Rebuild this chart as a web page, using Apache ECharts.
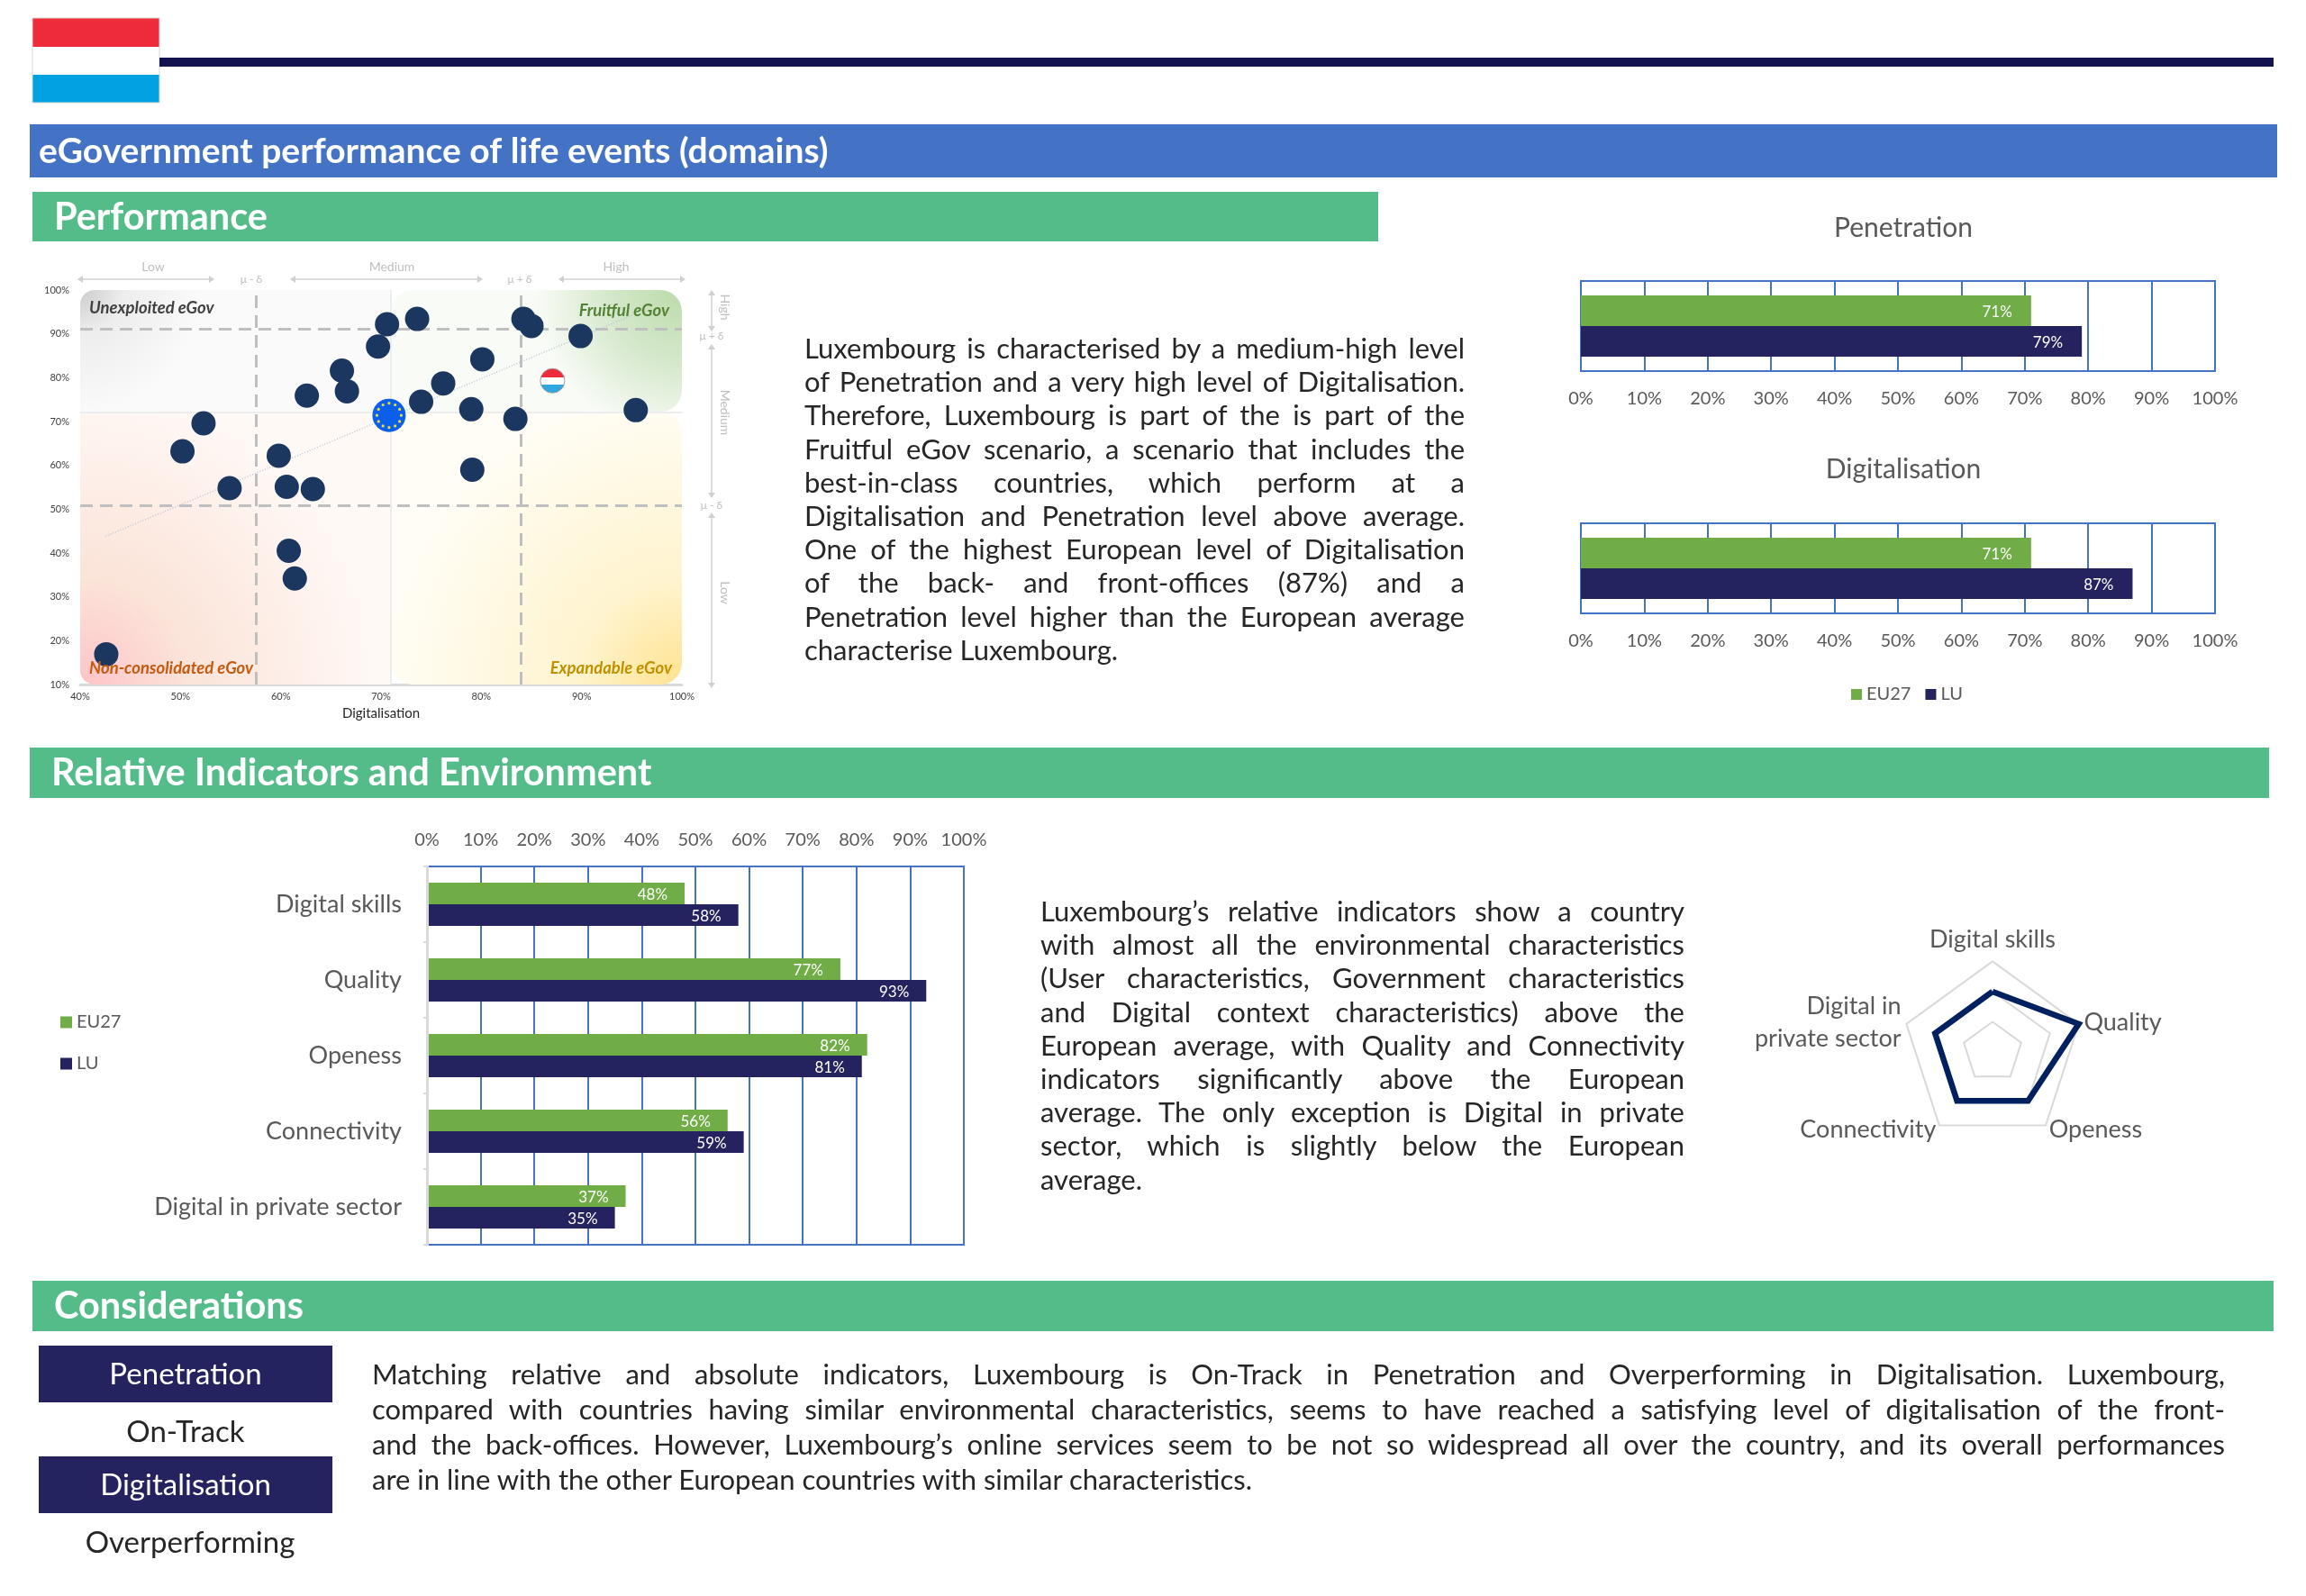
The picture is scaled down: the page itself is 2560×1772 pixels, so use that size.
<!DOCTYPE html>
<html>
<head>
<meta charset="utf-8">
<title>eGovernment performance of life events (domains)</title>
<script src="https://cdn.jsdelivr.net/npm/echarts@6/dist/echarts.min.js"></script>
<style>
	html, body { margin: 0; padding: 0; background: #fff; }
	#container { position: absolute; left: 0; top: 0; width: 2560px; height: 1772px; }
	.para { position: absolute; font-family: Lato, sans-serif; font-size: 31px; line-height: 37.2px; color: #262626; }
	.para.wide { line-height: 39px; }
	.para div { text-align: justify; text-align-last: justify; white-space: nowrap; }
	.para div.last { text-align-last: left; }
</style>
</head>
<body>
<div id="container"></div>
<div class="para" id="para1" style="left:893px;top:368px;width:733px"></div>
<div class="para" id="para2" style="left:1155px;top:993px;width:715px"></div>
<div class="para wide" id="para3" style="left:413px;top:1506px;width:2057px"></div>
<script>
// scatter, one entry per country
var countryDig = [42.6, 50.2, 52.3, 54.9, 59.8, 60.6, 63.2, 60.8, 61.4, 62.6, 66.1, 66.6, 69.7, 70.6, 73.6, 74.0, 76.2, 79.0, 79.1, 80.1, 83.4, 84.2, 85.0, 89.9, 95.4];
var countryPen = [16.9, 63.2, 69.6, 54.8, 62.2, 55.1, 54.6, 40.5, 34.2, 75.9, 81.6, 76.9, 87.1, 92.2, 93.4, 74.5, 78.7, 72.8, 59.0, 84.2, 70.6, 93.4, 91.8, 89.5, 72.6];
var euPoint = [70.8, 71.4];
var luPoint = [87.1, 79.3];
var trendDig = [42.5, 95.2];
var trendPen = [43.8, 94.4];
var avgDig = 71, avgPen = 72.2;
var dashDig = [57.5, 83.9];
var dashPen = [50.8, 91.2];

var groups = ['EU27', 'LU'];
var penetration = [71, 79];
var digitalisation = [71, 87];

var indicators = ['Digital skills', 'Quality', 'Openess', 'Connectivity', 'Digital in private sector'];
var indicatorsEU = [48, 77, 82, 56, 37];
var indicatorsLU = [58, 93, 81, 59, 35];

// radar goes counter clockwise from the top
var radarNames = ['Digital skills', 'Digital in\nprivate sector', 'Connectivity', 'Openess', 'Quality'];
var radarValues = [2, 2, 2, 2, 3];

var para1 = [
	'Luxembourg is characterised by a medium-high level',
	'of Penetration and a very high level of Digitalisation.',
	'Therefore, Luxembourg is part of the is part of the',
	'Fruitful eGov scenario, a scenario that includes the',
	'best-in-class countries, which perform at a',
	'Digitalisation and Penetration level above average.',
	'One of the highest European level of Digitalisation',
	'of the back- and front-offices (87%) and a',
	'Penetration level higher than the European average',
	'characterise Luxembourg.'
];
var para2 = [
	'Luxembourg\u2019s relative indicators show a country',
	'with almost all the environmental characteristics',
	'(User characteristics, Government characteristics',
	'and Digital context characteristics) above the',
	'European average, with Quality and Connectivity',
	'indicators significantly above the European',
	'average. The only exception is Digital in private',
	'sector, which is slightly below the European',
	'average.'
];
var para3 = [
	'Matching relative and absolute indicators, Luxembourg is On-Track in Penetration and Overperforming in Digitalisation. Luxembourg,',
	'compared with countries having similar environmental characteristics, seems to have reached a satisfying level of digitalisation of the front-',
	'and the back-offices. However, Luxembourg\u2019s online services seem to be not so widespread all over the country, and its overall performances',
	'are in line with the other European countries with similar characteristics.'
];

function fillPara(id, lines) {
	var box = document.getElementById(id);
	lines.forEach(function (line, i) {
		var d = document.createElement('div');
		d.textContent = line;
		if (i === lines.length - 1) d.className = 'last';
		box.appendChild(d);
	});
}
fillPara('para1', para1);
fillPara('para2', para2);
fillPara('para3', para3);

var GREEN = '#70AD47', NAVY = '#25235F', GRIDBLUE = '#4472C4', GREYTEXT = '#595959', NOTE = '#BFBFBF';
var R = echarts.graphic.RadialGradient;
var quadrants = [
	{ x: [40, avgDig], y: [avgPen, 100], r: [16, 0, 0, 0], fill: new R(0, 0, 1, [{ offset: 0, color: '#CCCCCC' }, { offset: 0.35, color: '#EDEDED' }, { offset: 1, color: '#FAFAFA' }]) },
	{ x: [avgDig, 100], y: [avgPen, 100], r: 24, fill: new R(1, 0, 1.2, [{ offset: 0, color: '#BBDBAB' }, { offset: 0.5, color: '#D5E8CB' }, { offset: 1, color: '#F8FBF6' }]) },
	{ x: [40, avgDig], y: [10, avgPen], r: [0, 0, 0, 16], fill: new R(0, 1, 1.1, [{ offset: 0, color: '#FFC3C8' }, { offset: 0.35, color: '#FBE3D8' }, { offset: 1, color: '#FFF9F6' }]) },
	{ x: [avgDig, 100], y: [10, avgPen], r: 24, fill: new R(1, 1, 1.1, [{ offset: 0, color: '#FFE28F' }, { offset: 0.35, color: '#FFF4CF' }, { offset: 1, color: '#FFFDF6' }]) }
];

function zipPoints(xs, ys) {
	return xs.map(function (x, i) { return [x, ys[i]]; });
}

// banner = coloured rect with a white title
function banner(x, y, w, h, color, text, tx, size, weight) {
	return [
		{ type: 'rect', shape: { x: x, y: y, width: w, height: h }, style: { fill: color } },
		{ type: 'text', x: tx, y: y + h / 2 + 1, style: { text: text, fill: '#fff', font: weight + ' ' + size + 'px Lato', textVerticalAlign: 'middle' } }
	];
}
function navyBox(y, text) {
	return [
		{ type: 'rect', shape: { x: 43, y: y, width: 326, height: 63 }, style: { fill: NAVY } },
		{ type: 'text', x: 206, y: y + 32, style: { text: text, fill: '#fff', font: '400 33px Lato', textAlign: 'center', textVerticalAlign: 'middle' } }
	];
}
function note(x, y, text, size, rot) {
	return { type: 'text', x: x, y: y, rotation: rot || 0, style: { text: text, fill: NOTE, font: size + 'px Lato', textAlign: 'center', textVerticalAlign: 'middle' } };
}
function arrow(x1, y1, x2, y2) {
	var out = [{ type: 'line', shape: { x1: x1, y1: y1, x2: x2, y2: y2 }, style: { stroke: '#D0D0D0', lineWidth: 1.5 } }];
	var horiz = y1 === y2;
	[[x1, y1, -1], [x2, y2, 1]].forEach(function (e) {
		var p = horiz ? [[e[0] + e[2] * 4, e[1]], [e[0] - e[2] * 2, e[1] - 4], [e[0] - e[2] * 2, e[1] + 4]]
			: [[e[0], e[1] + e[2] * 4], [e[0] - 4, e[1] - e[2] * 2], [e[0] + 4, e[1] - e[2] * 2]];
		out.push({ type: 'polygon', shape: { points: p }, style: { fill: '#D0D0D0' } });
	});
	return out;
}
function quadLabel(x, y, text, color, align) {
	return { type: 'text', x: x, y: y, z: 10, style: { text: text, fill: color, font: 'italic 700 18.5px Lato', textAlign: align, textVerticalAlign: 'middle' } };
}

var graphics = [].concat(
	// flag and rule
	{ type: 'rect', shape: { x: 36, y: 20, width: 141, height: 32 }, style: { fill: '#EE2B3B' } },
	{ type: 'rect', shape: { x: 36, y: 52, width: 141, height: 31 }, style: { fill: '#FFFFFF' } },
	{ type: 'rect', shape: { x: 36, y: 83, width: 141, height: 31 }, style: { fill: '#00A3E0' } },
	{ type: 'rect', shape: { x: 36, y: 20, width: 141, height: 94 }, style: { fill: 'none', stroke: '#D9D9D9', lineWidth: 1 } },
	{ type: 'rect', shape: { x: 177, y: 64, width: 2347, height: 10 }, style: { fill: '#13134F' } },
	banner(33, 138, 2495, 59, '#4472C4', 'eGovernment performance of life events (domains)', 43, 39, 700),
	banner(36, 213, 1494, 55, '#53BC89', 'Performance', 60, 41.5, 700),
	banner(33, 830, 2486, 56, '#53BC89', 'Relative Indicators and Environment', 57, 41.5, 700),
	banner(36, 1422, 2488, 56, '#53BC89', 'Considerations', 60, 41.5, 700),
	navyBox(1494, 'Penetration'),
	navyBox(1617, 'Digitalisation'),
	{ type: 'text', x: 206, y: 1590, style: { text: 'On-Track', fill: '#262626', font: '33px Lato', textAlign: 'center', textVerticalAlign: 'middle' } },
	{ type: 'text', x: 211, y: 1713, style: { text: 'Overperforming', fill: '#262626', font: '33px Lato', textAlign: 'center', textVerticalAlign: 'middle' } },
	// notes around the scatter
	note(170, 296, 'Low', 14), note(435, 296, 'Medium', 14), note(684, 296, 'High', 14),
	note(279, 310, '\u03BC - \u03B4', 12), note(577, 310, '\u03BC + \u03B4', 12),
	arrow(90, 310, 234, 310), arrow(326, 310, 532, 310), arrow(624, 310, 757, 310),
	note(805, 341, 'High', 14, -Math.PI / 2), note(805, 458, 'Medium', 14, -Math.PI / 2), note(805, 658, 'Low', 14, -Math.PI / 2),
	note(790, 373, '\u03BC + \u03B4', 12), note(790, 561, '\u03BC - \u03B4', 12),
	arrow(790, 326, 790, 364), arrow(790, 386, 790, 549), arrow(790, 573, 790, 760),
	quadLabel(99, 342, 'Unexploited eGov', '#404040', 'left'),
	quadLabel(743, 345, 'Fruitful eGov', '#548235', 'right'),
	quadLabel(99, 742, 'Non-consolidated eGov', '#C55A11', 'left'),
	quadLabel(746, 742, 'Expandable eGov', '#BF9000', 'right')
);

function pctAxis(grid, position, margin) {
	return {
		type: 'value', gridIndex: grid, position: position, min: 0, max: 100, interval: 10,
		axisLine: { show: false }, axisTick: { show: false },
		axisLabel: { formatter: '{value}%', color: GREYTEXT, fontSize: 20, margin: margin },
		splitLine: { show: true, lineStyle: { color: GRIDBLUE, width: 2 } }
	};
}
function barSeries(name, data, color, xi, yi, width, dist) {
	return {
		name: name, type: 'bar', xAxisIndex: xi, yAxisIndex: yi, data: data, barWidth: width, barGap: 0,
		itemStyle: { color: color }, z: 3,
		label: { show: true, position: 'insideRight', distance: dist, offset: [0, 2], color: '#fff', fontSize: 17, formatter: '{c}%' }
	};
}

var myChart = echarts.init(document.getElementById('container'));
var option = {
	animation: false,
	backgroundColor: '#fff',
	textStyle: { fontFamily: 'Lato' },
	title: [
		{ text: 'Penetration', left: 2108, top: 248, textAlign: 'center', textVerticalAlign: 'middle', textStyle: { color: GREYTEXT, fontSize: 30, fontWeight: 400 } },
		{ text: 'Digitalisation', left: 2108, top: 516, textAlign: 'center', textVerticalAlign: 'middle', textStyle: { color: GREYTEXT, fontSize: 30, fontWeight: 400 } }
	],
	legend: [
		{ data: groups, left: 2050, top: 756, itemWidth: 12, itemHeight: 12, itemGap: 16, icon: 'rect', textStyle: { color: GREYTEXT, fontSize: 20 } },
		{ data: groups, orient: 'vertical', left: 62, top: 1120, itemWidth: 13, itemHeight: 13, itemGap: 26, icon: 'rect', textStyle: { color: GREYTEXT, fontSize: 20 } }
	],
	grid: [
		{ left: 89, top: 322, width: 668, height: 438 },
		{ left: 1755, top: 312, width: 704, height: 100, show: true, borderColor: GRIDBLUE, borderWidth: 2 },
		{ left: 1755, top: 581, width: 704, height: 100, show: true, borderColor: GRIDBLUE, borderWidth: 2 },
		{ left: 474, top: 962, width: 596, height: 420, show: true, borderColor: GRIDBLUE, borderWidth: 2 }
	],
	xAxis: [
		{
			type: 'value', gridIndex: 0, min: 40, max: 100, interval: 10,
			name: 'Digitalisation', nameLocation: 'middle', nameGap: 25, nameTextStyle: { color: '#262626', fontSize: 15 },
			axisLine: { show: true, lineStyle: { color: '#D9D9D9', width: 3 } }, axisTick: { show: false },
			axisLabel: { formatter: '{value}%', color: '#404040', fontSize: 11, margin: 8 }, splitLine: { show: false }
		},
		pctAxis(1, 'bottom', 21), pctAxis(2, 'bottom', 21), pctAxis(3, 'top', 19)
	],
	yAxis: [
		{
			type: 'value', gridIndex: 0, min: 10, max: 100, interval: 10,
			axisLine: { show: false }, axisTick: { show: false },
			axisLabel: { formatter: '{value}%', color: '#404040', fontSize: 11, margin: 12 }, splitLine: { show: false }
		},
		{ type: 'category', gridIndex: 1, inverse: true, data: ['Penetration'], axisLine: { show: false }, axisTick: { show: false }, axisLabel: { show: false } },
		{ type: 'category', gridIndex: 2, inverse: true, data: ['Digitalisation'], axisLine: { show: false }, axisTick: { show: false }, axisLabel: { show: false } },
		{
			type: 'category', gridIndex: 3, inverse: true, data: indicators, z: 5,
			axisLine: { show: true, lineStyle: { color: '#D9D9D9', width: 3 } },
			axisTick: { show: true, length: 4, lineStyle: { color: '#D9D9D9', width: 2 } },
			axisLabel: { color: GREYTEXT, fontSize: 27, margin: 28 }
		}
	],
	radar: {
		center: [2212, 1168], radius: 100.6, splitNumber: 3, shape: 'polygon',
		axisName: { color: GREYTEXT, fontSize: 27, lineHeight: 36, fontFamily: 'Lato' }, nameGap: 6,
		axisLine: { show: false }, axisTick: { show: false }, splitArea: { show: false },
		splitLine: { lineStyle: { color: '#D9D9D9', width: 2 } },
		indicator: radarNames.map(function (n) { return { name: n, max: 3 }; })
	},
	graphic: graphics,
	series: [
		{
			type: 'custom', xAxisIndex: 0, yAxisIndex: 0, z: 1, silent: true, clip: false,
			data: quadrants.map(function (q, i) { return [i]; }),
			renderItem: function (params, api) {
				var q = quadrants[api.value(0)];
				var a = api.coord([q.x[0], q.y[1]]), b = api.coord([q.x[1], q.y[0]]);
				return { type: 'rect', shape: { x: a[0], y: a[1], width: b[0] - a[0], height: b[1] - a[1], r: q.r }, style: { fill: q.fill } };
			},
			encode: { x: -1, y: -1 }
		},
		{
			type: 'line', xAxisIndex: 0, yAxisIndex: 0, z: 2, symbol: 'none', silent: true,
			data: zipPoints(trendDig, trendPen), lineStyle: { color: '#BCC4D8', width: 1.5, type: [1, 2] },
			markLine: {
				silent: true, symbol: 'none', label: { show: false }, precision: 4, z: 2,
				data: [
					{ xAxis: avgDig, lineStyle: { color: '#EDEDED', width: 2, type: 'solid' } },
					{ yAxis: avgPen, lineStyle: { color: '#EDEDED', width: 2, type: 'solid' } },
					{ xAxis: dashDig[0], lineStyle: { color: NOTE, width: 3, type: [14, 8] } },
					{ xAxis: dashDig[1], lineStyle: { color: NOTE, width: 3, type: [14, 8] } },
					{ yAxis: dashPen[0], lineStyle: { color: NOTE, width: 3, type: [14, 8] } },
					{ yAxis: dashPen[1], lineStyle: { color: NOTE, width: 3, type: [14, 8] } }
				]
			}
		},
		{
			type: 'scatter', xAxisIndex: 0, yAxisIndex: 0, z: 4, symbolSize: 27,
			data: zipPoints(countryDig, countryPen), itemStyle: { color: '#1B365F', opacity: 1 }
		},
		{
			type: 'custom', xAxisIndex: 0, yAxisIndex: 0, z: 5, data: [euPoint],
			renderItem: function (params, api) {
				var c = api.coord([api.value(0), api.value(1)]);
				var kids = [{ type: 'circle', shape: { cx: c[0], cy: c[1], r: 18.5 }, style: { fill: '#0B5FE8' } }];
				for (var i = 0; i < 12; i++) {
					var a = i * Math.PI / 6;
					kids.push({ type: 'circle', shape: { cx: c[0] + 13.5 * Math.cos(a), cy: c[1] + 13.5 * Math.sin(a), r: 1.6 }, style: { fill: '#E8E23A' } });
				}
				return { type: 'group', children: kids };
			}
		},
		{
			type: 'scatter', xAxisIndex: 0, yAxisIndex: 0, z: 5, symbolSize: 27, data: [luPoint],
			itemStyle: {
				opacity: 1, borderColor: '#9A9A9A', borderWidth: 1,
				color: new echarts.graphic.LinearGradient(0, 0, 0, 1, [
					{ offset: 0, color: '#EE2B3B' }, { offset: 0.36, color: '#EE2B3B' },
					{ offset: 0.36, color: '#FFFFFF' }, { offset: 0.64, color: '#FFFFFF' },
					{ offset: 0.64, color: '#2FA8E0' }, { offset: 1, color: '#2FA8E0' }
				])
			}
		},
		barSeries('EU27', [penetration[0]], GREEN, 1, 1, 34, 21),
		barSeries('LU', [penetration[1]], NAVY, 1, 1, 34, 21),
		barSeries('EU27', [digitalisation[0]], GREEN, 2, 2, 34, 21),
		barSeries('LU', [digitalisation[1]], NAVY, 2, 2, 34, 21),
		barSeries('EU27', indicatorsEU, GREEN, 3, 3, 24, 19),
		barSeries('LU', indicatorsLU, NAVY, 3, 3, 24, 19),
		{
			type: 'radar', symbol: 'none', z: 3,
			lineStyle: { color: '#002060', width: 6.5, join: 'miter' },
			data: [{ value: radarValues, name: 'LU radar' }]
		}
	]
};
myChart.setOption(option, true);
</script>
</body>
</html>
